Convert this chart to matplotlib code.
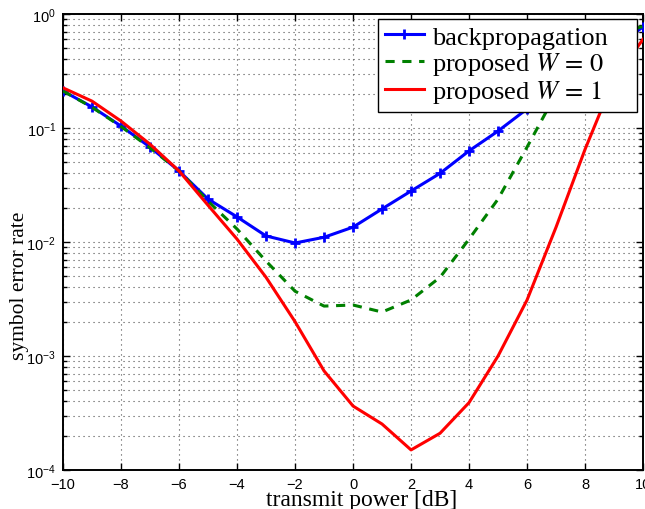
import matplotlib
matplotlib.use("Agg")
import matplotlib.pyplot as plt
import numpy as np
from matplotlib.ticker import FixedLocator, LogLocator, NullFormatter

power_db = [-10, -9, -8, -7, -6, -5, -4, -3, -2, -1, 0, 1, 2, 3, 4, 5, 6, 7, 8, 9, 10]
ser_backprop = [0.211, 0.153, 0.104, 0.068, 0.042, 0.0238, 0.0166, 0.0113, 0.0098, 0.011,
                0.0135, 0.0195, 0.028, 0.040, 0.063, 0.094, 0.147, 0.22, 0.34, 0.51, 0.77]
ser_w0 = [0.211, 0.152, 0.103, 0.067, 0.042, 0.0228, 0.013, 0.0068, 0.0037, 0.00274,
          0.0028, 0.00243, 0.0031, 0.0049, 0.0106, 0.0238, 0.068, 0.2, 0.45, 0.65, 0.78]
ser_w1 = [0.225, 0.172, 0.115, 0.072, 0.042, 0.021, 0.0106, 0.0049, 0.0020, 0.00074,
          0.000364, 0.000253, 0.00015, 0.00021, 0.00039, 0.001, 0.0031, 0.0135, 0.065, 0.27, 0.6]

x_ticks = [-10, -8, -6, -4, -2, 0, 2, 4, 6, 8, 10]
y_ticks = [1e-4, 1e-3, 1e-2, 1e-1, 1e0]
y_ticklabels = [r'$\mathregular{10^{-4}}$', r'$\mathregular{10^{-3}}$', r'$\mathregular{10^{-2}}$',
                r'$\mathregular{10^{-1}}$', r'$\mathregular{10^{0}}$']

plt.rcParams['mathtext.fontset'] = 'stix'

fig = plt.figure(figsize=(6.45, 5.1), dpi=100)
ax = fig.add_axes([0.0977, 0.0765, 0.8993, 0.8941])

ax.plot(power_db, ser_backprop, color='#0000ff', lw=2.2, marker='+', ms=7, mew=2,
        label='backpropagation', zorder=3)
ax.plot(power_db, ser_w0, color='#008000', lw=2.2, ls=(0, (3, 2.5)),
        label=r'proposed $W\,=\,0$', zorder=3)
ax.plot(power_db, ser_w1, color='#ff0000', lw=2.2,
        label=r'proposed $W\,=\,1$', zorder=3)

ax.set_yscale('log')
ax.set_xlim(-10, 10)
ax.set_ylim(1e-4, 1)
ax.set_xticks(x_ticks)
ax.set_xticklabels([str(v).replace('-', '\u2212') for v in x_ticks],
                   family='Liberation Sans', fontsize=10.5)
ax.yaxis.set_major_locator(FixedLocator(y_ticks))
ax.set_yticklabels(y_ticklabels, family='Liberation Sans', fontsize=10.5)
ax.yaxis.set_minor_locator(LogLocator(base=10, subs=np.arange(2, 10), numticks=20))
ax.yaxis.set_minor_formatter(NullFormatter())

ax.grid(True, which='major', axis='both', ls=(0, (1, 3.5)), color='0.3', lw=0.8)
ax.grid(True, which='minor', axis='y', ls=(0, (1, 3.5)), color='0.3', lw=0.8)

ax.tick_params(which='both', direction='in', top=True, right=True, width=1.0)
ax.tick_params(which='major', length=5, pad=5)
ax.tick_params(which='minor', length=3)
for s in ax.spines.values():
    s.set_linewidth(1.4)

ax.set_xlabel('transmit power [dB]', family='Liberation Serif', fontsize=17)
ax.xaxis.set_label_coords(0.515, -0.041)
ax.set_ylabel('symbol error rate', family='Liberation Serif', fontsize=15.5)
ax.yaxis.set_label_coords(-0.058, 0.405)

leg = ax.legend(loc='upper left', bbox_to_anchor=(0.543, 0.0, 0.447, 0.99), mode='expand',
                borderaxespad=0,
                prop={'family': 'Liberation Serif', 'size': 19}, fancybox=False,
                framealpha=1, edgecolor='black', handlelength=1.5, borderpad=0.25,
                labelspacing=0.05, handletextpad=0.3)
leg.get_frame().set_linewidth(1.0)

fig.savefig('out.png', dpi=100)
